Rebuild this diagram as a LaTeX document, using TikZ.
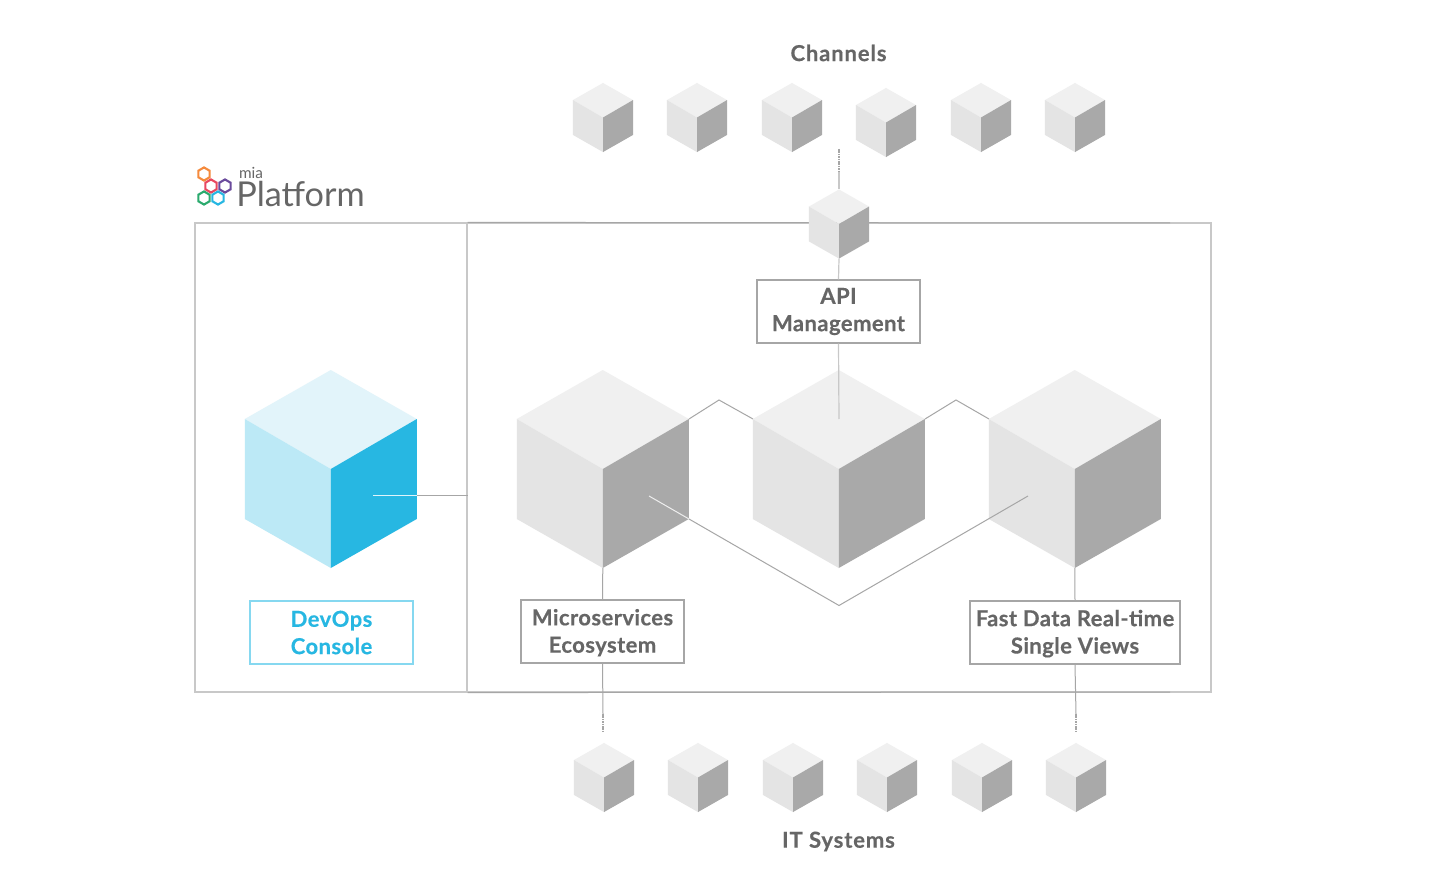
\documentclass[tikz,border=0pt]{standalone}
\usepackage{fontspec}
\setmainfont{Lato}
\usetikzlibrary{positioning,shapes.geometric}
\definecolor{cubetop}{HTML}{F0F0F0}
\definecolor{cubeleft}{HTML}{E4E4E4}
\definecolor{cuberight}{HTML}{A9A9A9}
\definecolor{devtop}{HTML}{E2F4FA}
\definecolor{devleft}{HTML}{BCE9F6}
\definecolor{devright}{HTML}{27B7E2}
\definecolor{framegray}{HTML}{C8C8C8}
\definecolor{wiregray}{HTML}{A6A6A6}
\definecolor{labelgray}{HTML}{666666}
\definecolor{boxblue}{HTML}{86D8F0}
\definecolor{hexorange}{HTML}{F58A3C}
\definecolor{hexred}{HTML}{E8475F}
\definecolor{hexpurple}{HTML}{6A4A9C}
\definecolor{hexgreen}{HTML}{2BAA6E}
\tikzset{
  pics/cube/.style n args={3}{code={
    \fill[#1] (0,-99) -- (86,-50) -- (0,0) -- (-86,-50) -- cycle;
    \fill[#2] (-86,-50) -- (0,0) -- (0,99) -- (-86,50) -- cycle;
    \fill[#3] (86,-50) -- (0,0) -- (0,99) -- (86,50) -- cycle;
    \coordinate (-n) at (0,-99);
    \coordinate (-s) at (0,99);
  }},
  small/.style={scale=0.349}
}
\begin{document}
\begin{tikzpicture}[
  x=0.75pt, y=-0.75pt,
  lbl/.style={font=\fontsize{16.5}{20.5}\selectfont\bfseries\addfontfeature{FakeBold=0.4,LetterSpace=2}, text=labelgray, align=center},
  rowlbl/.style={font=\fontsize{16.5}{20.5}\selectfont\bfseries\addfontfeature{FakeBold=0.4,LetterSpace=4}, text=labelgray},
  box/.style={lbl, draw=wiregray, line width=1.1pt, fill=white, minimum width=122pt, minimum height=47pt, inner sep=0pt},
  frame/.style={draw=framegray, line width=0.9pt},
  wire/.style={draw=wiregray, line width=0.75pt},
  dots/.style={draw=wiregray, line width=1pt, dash pattern=on 1.2pt off 0.6pt},
  hexa/.style={regular polygon, regular polygon sides=6, shape border rotate=30, draw, line width=1.6pt, minimum size=9.8pt, inner sep=0pt}
]
\useasboundingbox (0,0) rectangle (1440,895);
\fill[white] (0,0) rectangle (1440,895);
% platform frame
\node[frame, minimum width=762pt, minimum height=351.75pt, inner sep=0pt] (platform) at (703,457.5) {};
\node[frame, minimum width=204pt, minimum height=351.75pt, inner sep=0pt] (devframe) at (331,457.5) {};
\coordinate (edgetop) at (1170,223);
\coordinate (edgelow) at (1170,692);
\draw[wire] (devframe.north east) -- (edgetop);
\draw[wire] (devframe.south east) -- (edgelow);
% logo
\node[hexa, draw=hexorange] (hexo) at (204,174) {};
\node[hexa, draw=hexred] (hexr) at (211,186) {};
\node[hexa, draw=hexpurple] (hexp) at (225,186) {};
\node[hexa, draw=hexgreen] (hexg) at (204,198) {};
\node[hexa, draw=devright] (hexb) at (218,198) {};
\node[font=\fontsize{11.5}{11.5}\selectfont, text=labelgray, inner sep=0pt] (mia) at (251,173) {mia};
\node[font=\fontsize{25.7}{25.7}\selectfont, text=labelgray, inner sep=0pt] (logotext) at (300.5,194) {Platform};
% zigzags go behind the big cubes
\coordinate (zig1a) at (689,419);
\coordinate (zig1) at (719,400);
\coordinate (zig1b) at (753,419);
\coordinate (zig2a) at (925,419);
\coordinate (zig2) at (956,400);
\coordinate (zig2b) at (989,419);
\draw[wire] (zig1a) -- (zig1) -- (zig1b);
\draw[wire] (zig2a) -- (zig2) -- (zig2b);
% big cubes
\pic (dev) at (330.8,469) {cube={devtop}{devleft}{devright}};
\pic (micro) at (602.8,469) {cube={cubetop}{cubeleft}{cuberight}};
\pic (core) at (838.8,469) {cube={cubetop}{cubeleft}{cuberight}};
\pic (fast) at (1074.8,469) {cube={cubetop}{cubeleft}{cuberight}};
% channels row
\foreach \i/\cx/\cy in {1/603/117.5,2/697/117.5,3/792/117.5,4/886/122.5,5/981/117.5,6/1075/117.5}
  \pic[small] (chan\i) at (\cx,\cy) {cube={cubetop}{cubeleft}{cuberight}};
% it systems row
\foreach \i/\cx in {1/604,2/698,3/793,4/887,5/982,6/1076}
  \pic[small] (sys\i) at (\cx,777.5) {cube={cubetop}{cubeleft}{cuberight}};
\pic[small] (hub) at (839,224) {cube={cubetop}{cubeleft}{cuberight}};
% labels
\node[rowlbl] (channels) at (838.5,53) {Channels};
\node[rowlbl] (itsys) at (838.5,841.5) {IT Systems};
\node[box] (api) at (838.5,311.5) {API\\Management};
\node[box] (micbox) at (602.5,631.5) {\rule{0pt}{14pt}Microservices\\Ecosystem};
\node[box, minimum width=157.5pt] (fastbox) at (1075,632.5) {\rule{0pt}{14pt}Fast Data Real-time\\Single Views};
\node[box, draw=boxblue, text=devright] (devbox) at (331.5,632.5) {DevOps\\Console};
% free ends
\coordinate (chanend) at (839,149);
\coordinate (chanmid) at (839,172);
\coordinate (micend) at (603,732);
\coordinate (micmid) at (603,714);
\coordinate (fastend) at (1076,732);
\coordinate (fastmid) at (1076,714);
\coordinate (vlow) at (839,605.5);
\coordinate (vleft) at (649,496);
\coordinate (vright) at (1028,496);
\coordinate (vrim) at (689,519);
\coordinate (devin) at (373,495);
\coordinate (devrim) at (417,495);
\coordinate (coremid) at (839,419);
% connectors
\draw[dots] (chanend) -- (chanmid);
\draw[frame] (chanmid) -- (hub-n);
\draw[frame] (hub-s) -- (api.north);
\draw[frame] (api.south) -- (coremid);
\draw[wire] (micro-s) -- (micbox.north);
\draw[wire] (micbox.south) -- (micmid);
\draw[dots] (micmid) -- (micend);
\draw[wire] (fast-s) -- (fastbox.north);
\draw[wire] (fastbox.south) -- (fastmid);
\draw[dots] (fastmid) -- (fastend);
\draw[wire] (devrim) -- (devframe.east |- devin);
\draw[draw=white!85!devright, line width=0.75pt] (devin) -- (devrim);
\draw[draw=white!80!cuberight, line width=0.75pt] (vleft) -- (vrim);
\draw[wire] (vrim) -- (vlow) -- (vright);
\end{tikzpicture}
\end{document}
